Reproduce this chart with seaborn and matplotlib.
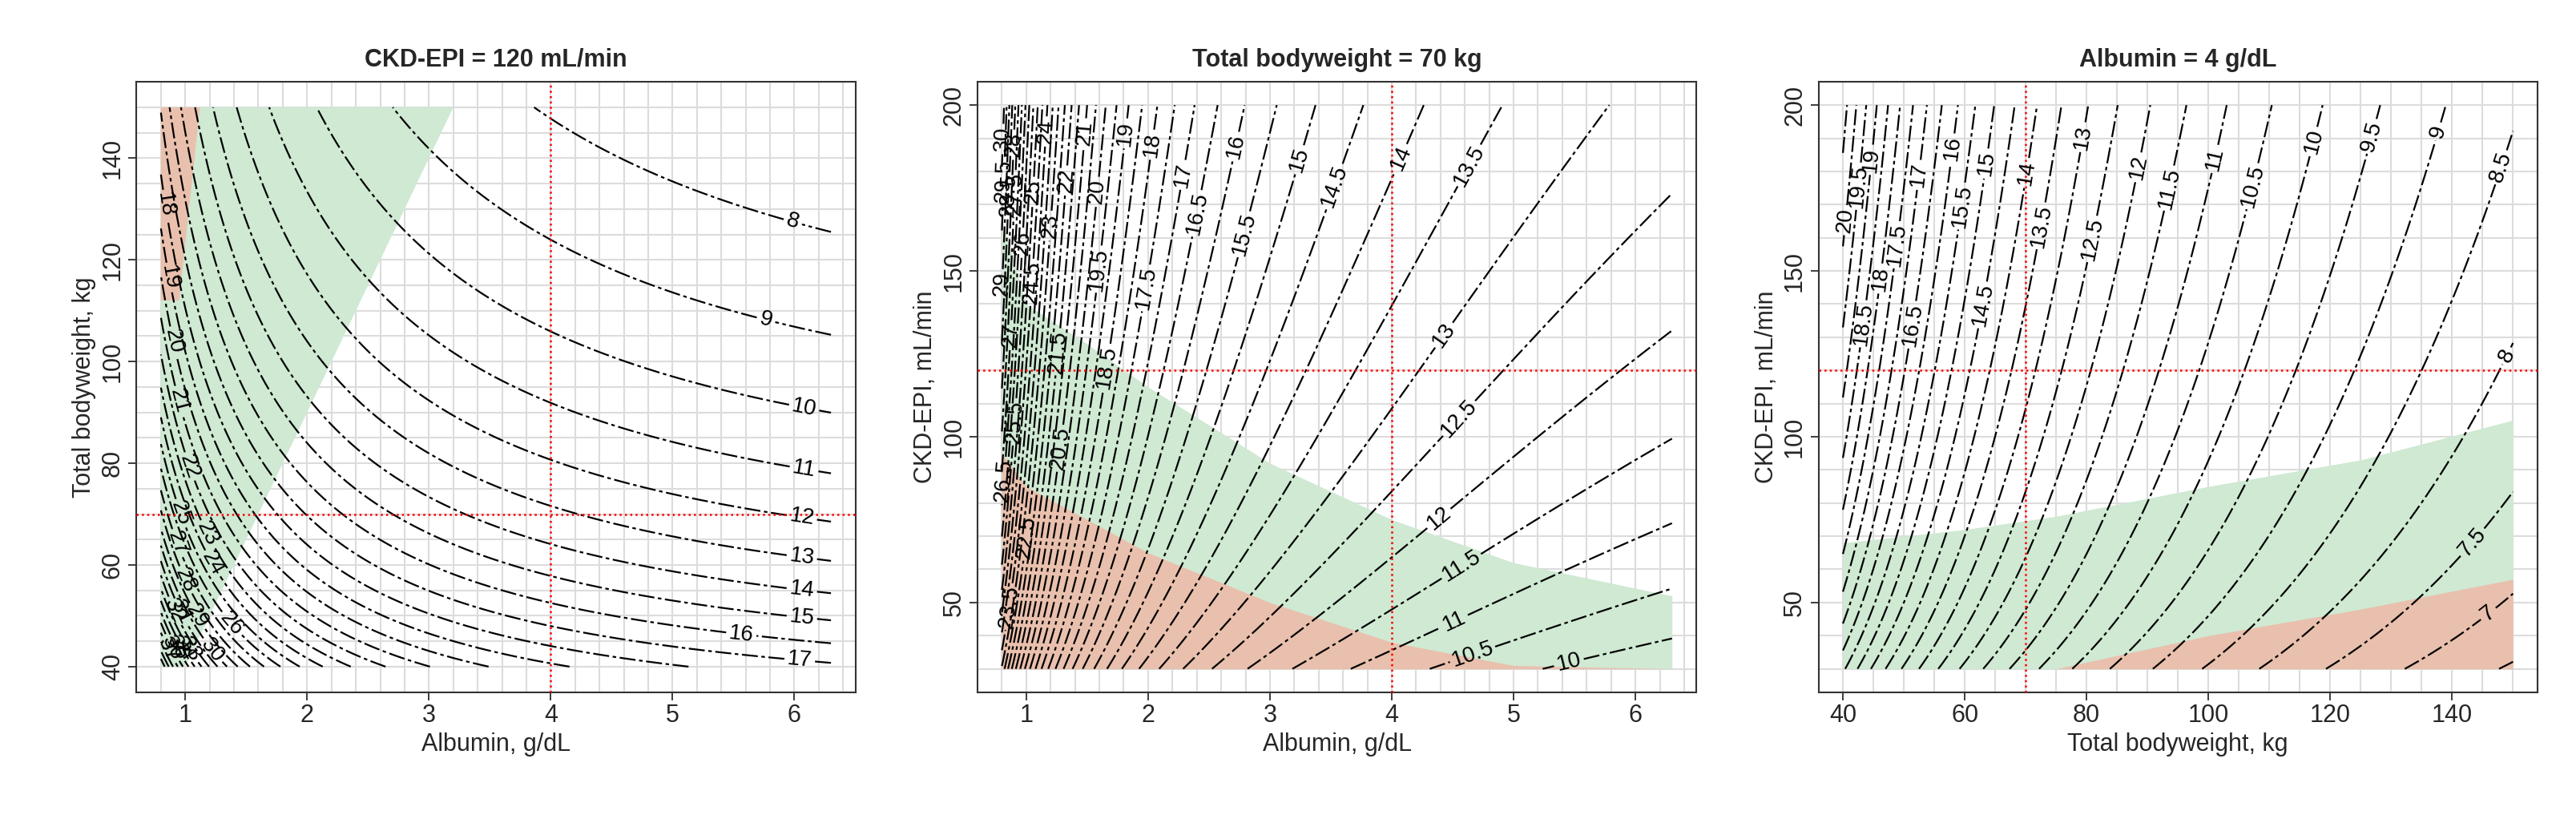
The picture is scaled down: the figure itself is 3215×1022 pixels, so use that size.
import numpy as np
import matplotlib
matplotlib.use("Agg")
import matplotlib.pyplot as plt
import seaborn as sns

sns.set_theme(style="white")
plt.rcParams['font.family'] = ['Liberation Sans', 'DejaVu Sans']

# model parameters (read-off approximation of contour surface)
K = 126.0
ALB_C = 0.63
W_EXP = 0.67
G_EXP = 0.15

# reference values
ref_gfr = 120
ref_wt = 70
ref_alb = 4

# contour levels
levels1 = list(range(8, 41))
levels2 = list(np.arange(5, 40.5, 0.5))
levels3 = list(np.arange(5, 40.5, 0.5))

# shaded region boundaries
p1_green_x = [0.8, 0.8, 3.2, 1.0]
p1_green_y = [40, 150, 150, 40]
p1_red_x = [0.8, 0.8, 1.12, 0.95]
p1_red_y = [112, 150, 150, 112]

p2_x = [0.8, 1.0, 1.5, 2.0, 3.0, 4.0, 5.0, 6.3]
p2_green_top = [165, 140, 128, 115, 92, 75, 62, 52]
p2_red_top = [95, 85, 75, 65, 50, 38, 31, 30]

p3_x = [40, 60, 75, 100, 125, 150]
p3_green_top = [68, 72, 76, 85, 93, 105]
p3_red_top = [30, 30, 30, 40, 48, 57]

GREEN = "#cfe9d3"
RED = "#e9c0ad"

def model(alb, wt, gfr):
    return K * gfr ** G_EXP * (ALB_C + 1.0 / alb) / wt ** W_EXP

fig, axes = plt.subplots(1, 3, figsize=(32.15, 10.22), dpi=100)
fig.subplots_adjust(left=0.053, right=0.985, top=0.9, bottom=0.155, wspace=0.17)

ls = [(0, (9, 2, 2, 2))]
fs = 22

def style(ax, title, xl, yl):
    ax.set_title(title, fontsize=fs, fontweight="bold", pad=14)
    ax.set_xlabel(xl, fontsize=fs)
    ax.set_ylabel(yl, fontsize=fs)
    ax.tick_params(labelsize=fs, length=7, direction="out", bottom=True, left=True)
    for lab in ax.get_yticklabels():
        lab.set_rotation(90)
        lab.set_va("center")
    ax.minorticks_on()
    ax.grid(True, which="both", color="#dcdcdc", lw=1.5, zorder=0)
    ax.tick_params(which="minor", length=0)
    for s in ax.spines.values():
        s.set_color("#333333")
        s.set_linewidth(1.5)
    ax.set_axisbelow(True)

# Panel 1
ax = axes[0]
A = np.linspace(0.8, 6.3, 300)
W = np.linspace(40, 150, 300)
AA, WW = np.meshgrid(A, W)
Z = model(AA, WW, ref_gfr)
ax.fill(p1_green_x, p1_green_y, color=GREEN, lw=0, zorder=1)
ax.fill(p1_red_x, p1_red_y, color=RED, lw=0, zorder=1)
cs = ax.contour(AA, WW, Z, levels=levels1, colors="black", linewidths=1.6, linestyles=ls, zorder=2)
ax.clabel(cs, fmt="%g", fontsize=20, inline=True)
ax.axvline(ref_alb, color="red", ls=":", lw=1.8, zorder=3)
ax.axhline(ref_wt, color="red", ls=":", lw=1.8, zorder=3)
ax.set_xlim(0.6, 6.5)
ax.set_ylim(35, 155)
ax.set_xticks([1, 2, 3, 4, 5, 6])
ax.set_yticks([40, 60, 80, 100, 120, 140])
ax.xaxis.set_minor_locator(matplotlib.ticker.MultipleLocator(0.2))
ax.yaxis.set_minor_locator(matplotlib.ticker.MultipleLocator(5))
style(ax, "CKD-EPI = 120 mL/min", "Albumin, g/dL", "Total bodyweight, kg")

# Panel 2
ax = axes[1]
G = np.linspace(30, 200, 300)
AA, GG = np.meshgrid(A, G)
Z = model(AA, ref_wt, GG)
ax.fill_between(p2_x, 30, p2_green_top, color=GREEN, lw=0, zorder=1)
ax.fill_between(p2_x, 30, p2_red_top, color=RED, lw=0, zorder=1)
cs = ax.contour(AA, GG, Z, levels=levels2, colors="black", linewidths=1.6, linestyles=ls, zorder=2)
ax.clabel(cs, fmt="%g", fontsize=20, inline=True)
ax.axvline(ref_alb, color="red", ls=":", lw=1.8, zorder=3)
ax.axhline(ref_gfr, color="red", ls=":", lw=1.8, zorder=3)
ax.set_xlim(0.6, 6.5)
ax.set_ylim(23, 207)
ax.set_xticks([1, 2, 3, 4, 5, 6])
ax.set_yticks([50, 100, 150, 200])
ax.xaxis.set_minor_locator(matplotlib.ticker.MultipleLocator(0.2))
ax.yaxis.set_minor_locator(matplotlib.ticker.MultipleLocator(10))
style(ax, "Total bodyweight = 70 kg", "Albumin, g/dL", "CKD-EPI, mL/min")

# Panel 3
ax = axes[2]
WW, GG = np.meshgrid(W, G)
Z = model(ref_alb, WW, GG)
ax.fill_between(p3_x, 30, p3_green_top, color=GREEN, lw=0, zorder=1)
ax.fill_between(p3_x, 30, p3_red_top, color=RED, lw=0, zorder=1)
cs = ax.contour(WW, GG, Z, levels=levels3, colors="black", linewidths=1.6, linestyles=ls, zorder=2)
ax.clabel(cs, fmt="%g", fontsize=20, inline=True)
ax.axvline(ref_wt, color="red", ls=":", lw=1.8, zorder=3)
ax.axhline(ref_gfr, color="red", ls=":", lw=1.8, zorder=3)
ax.set_xlim(36, 154)
ax.set_ylim(23, 207)
ax.set_xticks([40, 60, 80, 100, 120, 140])
ax.set_yticks([50, 100, 150, 200])
ax.xaxis.set_minor_locator(matplotlib.ticker.MultipleLocator(5))
ax.yaxis.set_minor_locator(matplotlib.ticker.MultipleLocator(10))
style(ax, "Albumin = 4 g/dL", "Total bodyweight, kg", "CKD-EPI, mL/min")

fig.savefig("out.png", dpi=100)
